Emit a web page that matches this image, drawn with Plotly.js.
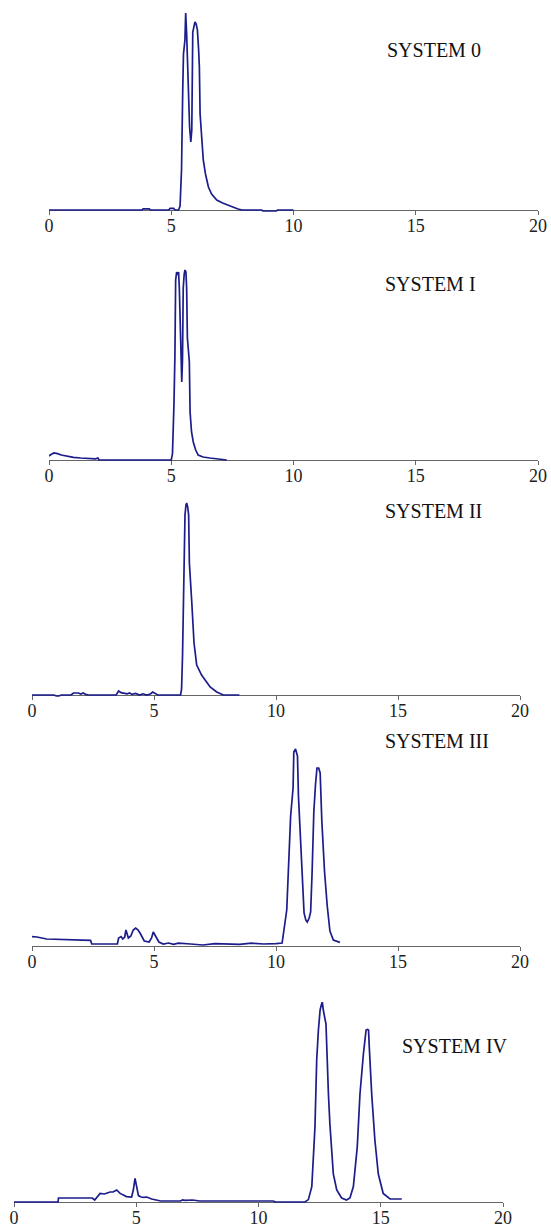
<!DOCTYPE html>
<html>
<head>
<meta charset="utf-8">
<script src="https://cdn.plot.ly/plotly-3.0.1.min.js"></script>
<style>html,body{margin:0;padding:0;background:#fff;}#chart{width:551px;height:1229px;}</style>
</head>
<body>
<div id="chart"></div>
<script>
// ---- data (retention time, detector response in arbitrary units) ----
const panelNames = ["SYSTEM 0", "SYSTEM I", "SYSTEM II", "SYSTEM III", "SYSTEM IV"];
const tickValues = [0, 5, 10, 15, 20];
const tickLabels = ["0", "5", "10", "15", "20"];

const sys0X = [0, 3.8, 3.85, 4.1, 4.15, 4.9, 4.95, 5.1, 5.15, 5.3, 5.36, 5.42, 5.47, 5.5, 5.56, 5.59, 5.63, 5.7, 5.75, 5.8, 5.84, 5.88, 5.93, 5.97, 6.02, 6.07, 6.12, 6.15, 6.18, 6.24, 6.31, 6.4, 6.52, 6.65, 6.86, 7.1, 7.4, 7.73, 7.9, 8.7, 8.75, 9.3, 9.35, 10];
const sys0Y = [0, 0, 0.6, 0.6, 0, 0, 0.8, 0.8, 0, 0, 2, 20, 60, 78, 85, 98.5, 88, 60, 41.5, 34, 40, 89, 92, 94, 93, 90, 80, 71.5, 48, 36, 25, 18, 11.5, 8, 5, 3.5, 2, 0.5, 0, 0, -0.5, -0.5, 0, 0];

const sys1X = [0, 0.05, 0.2, 0.35, 0.5, 0.7, 1.0, 1.3, 1.6, 1.9, 2.0, 2.05, 5.0, 5.05, 5.11, 5.15, 5.18, 5.22, 5.26, 5.3, 5.33, 5.38, 5.43, 5.46, 5.49, 5.53, 5.56, 5.6, 5.63, 5.66, 5.74, 5.77, 5.83, 5.9, 6.0, 6.1, 6.3, 6.58, 6.9, 7.27];
const sys1Y = [2, 2.5, 3.5, 3.2, 2.5, 2, 1.3, 1, 0.8, 0.6, 1, 0, 0, 3, 27.5, 52, 90, 94, 92.5, 94, 86, 60, 39, 50, 86, 93, 95, 94, 86, 61, 49, 24, 14, 9, 5, 2.5, 1.5, 1, 0.5, 0];

const sys2X = [0, 0.9, 1.0, 1.1, 1.2, 1.6, 1.7, 1.9, 2.0, 2.1, 2.2, 2.3, 3.45, 3.55, 3.65, 3.8, 3.9, 4.0, 4.1, 4.25, 4.4, 4.55, 4.7, 4.85, 4.95, 5.05, 5.15, 6.09, 6.13, 6.17, 6.2, 6.23, 6.27, 6.31, 6.34, 6.38, 6.42, 6.45, 6.5, 6.55, 6.64, 6.75, 6.95, 7.3, 7.57, 7.84, 8.5];
const sys2Y = [0, 0, -0.5, -0.5, 0, 0, 1, 1, 0.5, 1, 0.3, 0, 0, 2, 1.2, 1, 0.6, 1, 0.3, 0.8, 0, 0.6, 0, 0.5, 1.5, 0.8, 0, 0, 3, 20, 45, 66, 90, 95, 96, 94, 90, 66, 58, 46, 26, 15, 10, 4, 1.5, 0, 0];

const sys3X = [0, 0.2, 0.6, 1.5, 2.4, 2.45, 3.5, 3.55, 3.65, 3.72, 3.8, 3.85, 3.9, 3.95, 4.05, 4.15, 4.25, 4.35, 4.45, 4.6, 4.8, 4.9, 4.97, 5.05, 5.2, 5.38, 5.6, 5.8, 6.0, 6.5, 7.0, 7.5, 8.0, 8.5, 9.0, 9.5, 10.0, 10.25, 10.44, 10.52, 10.6, 10.7, 10.73, 10.8, 10.88, 10.92, 10.99, 11.05, 11.15, 11.22, 11.28, 11.36, 11.42, 11.48, 11.55, 11.62, 11.68, 11.75, 11.81, 11.88, 11.99, 12.1, 12.21, 12.35, 12.62];
const sys3Y = [4.7, 4.5, 3.5, 3.2, 2.8, 1, 1, 4, 4.7, 3.5, 4.5, 8, 6, 4, 5, 8, 9, 8, 6, 2.5, 2, 4, 7, 5, 2, 1, 1.5, 0.8, 1.4, 1, 0.5, 1.2, 1, 0.8, 1.4, 1, 1.2, 1.5, 18, 45, 65, 79, 97, 98.5, 95, 75, 58, 38, 16.5, 13, 12, 14, 17, 37, 67, 81, 89, 89, 86.5, 62, 37, 20, 7.5, 3, 1.8];

const sys4X = [0, 1.8, 1.82, 3.2, 3.3, 3.4, 3.52, 3.7, 3.93, 4.05, 4.2, 4.34, 4.6, 4.81, 4.88, 4.95, 5.02, 5.09, 5.2, 5.31, 5.43, 5.63, 6.0, 6.8, 6.9, 7.0, 7.3, 7.5, 7.6, 8.5, 9.5, 10.6, 10.7, 11.9, 12.04, 12.18, 12.31, 12.38, 12.45, 12.52, 12.58, 12.61, 12.65, 12.76, 12.86, 12.92, 13.06, 13.2, 13.4, 13.6, 13.74, 13.88, 14.04, 14.15, 14.29, 14.4, 14.46, 14.5, 14.53, 14.63, 14.76, 14.9, 15.1, 15.38, 15.86];
const sys4Y = [0, 0, 2, 2, 1, 2.5, 4.3, 4, 5, 5, 6, 4.3, 2.7, 2.5, 6, 11.8, 7.8, 3.2, 2.5, 2.3, 2.5, 1.5, 0.5, 0.5, 1, 0.8, 1, 0.8, 0.5, 0.5, 0.5, 0.5, 0, 0, 1.2, 7.7, 37.7, 71, 86, 96, 99, 100, 96, 89, 54, 39, 14, 6, 2, 1, 2, 7.7, 27.7, 54, 74, 86, 86.3, 86, 77.7, 54, 31, 14, 4.3, 1.5, 1.5];

const seriesX = [sys0X, sys1X, sys2X, sys3X, sys4X];
const seriesY = [sys0Y, sys1Y, sys2Y, sys3Y, sys4Y];

// ---- layout geometry (pixels) ----
const W = 551, H = 1229;
const axisPx = [210, 460, 695, 946, 1202];   // y pixel of each baseline axis
const leftPx = [49, 49, 32, 32, 14];          // pixel of x = 0
const rightPx = [538, 538, 520, 520, 503];    // pixel of x = 20
const labelPos = [[385, 50], [383, 284], [383, 511], [383, 741], [400, 1046]];
const lineColor = "#1c1c8a";

const traces = [];
const layout = {
  width: W, height: H,
  margin: {l: 0, r: 0, t: 0, b: 0},
  paper_bgcolor: "#ffffff",
  plot_bgcolor: "rgba(0,0,0,0)",
  showlegend: false,
  annotations: []
};

for (let i = 0; i < 5; i++) {
  const n = i === 0 ? "" : String(i + 1);
  traces.push({
    type: "scatter", mode: "lines",
    x: seriesX[i], y: seriesY[i],
    xaxis: "x" + n, yaxis: "y" + n,
    line: {color: lineColor, width: 1.7},
    hoverinfo: "skip"
  });
  const yBot = 1 - (axisPx[i] + 4) / H;
  const yTop = 1 - (axisPx[i] - 200) / H;
  layout["xaxis" + n] = {
    domain: [leftPx[i] / W, rightPx[i] / W],
    range: [0, 20],
    anchor: "free",
    position: 1 - axisPx[i] / H,
    showline: true, linecolor: "#666", linewidth: 1,
    ticks: "outside", ticklen: 4, tickcolor: "#666", tickwidth: 1,
    tickmode: "array", tickvals: tickValues, ticktext: tickLabels,
    ticklabelstandoff: -5,
    tickfont: {family: "Liberation Serif, Times New Roman, serif", size: 18, color: "#222"},
    showgrid: false, zeroline: false, layer: "below traces", fixedrange: true
  };
  layout["yaxis" + n] = {
    domain: [yBot, yTop],
    range: [-2, 100],
    anchor: "x" + n,
    visible: false, showgrid: false, zeroline: false, fixedrange: true
  };
  layout.annotations.push({
    text: panelNames[i],
    xref: "paper", yref: "paper",
    x: labelPos[i][0] / W, y: 1 - labelPos[i][1] / H,
    xanchor: "left", yanchor: "middle",
    showarrow: false,
    font: {family: "Liberation Serif, Times New Roman, serif", size: 20, color: "#111"}
  });
}

Plotly.newPlot("chart", traces, layout, {staticPlot: true, displayModeBar: false});
</script>
</body>
</html>
